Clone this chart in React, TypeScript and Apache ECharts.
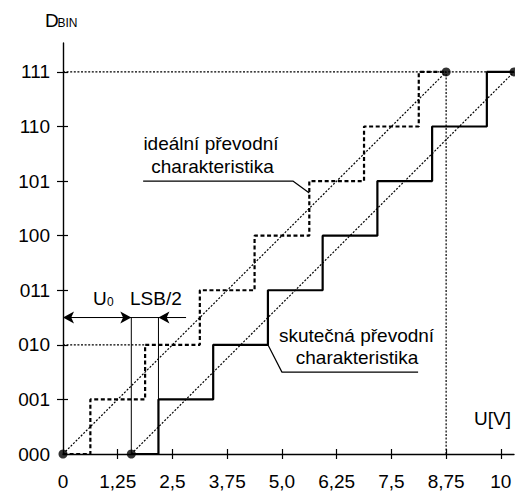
import React, { useEffect, useRef } from "react";
import * as echarts from "echarts";

// ---- data ----
const yCategories = ["000", "001", "010", "011", "100", "101", "110", "111"];
const xTickValues = [0, 1.25, 2.5, 3.75, 5, 6.25, 7.5, 8.75, 10];
const xTickLabels = ["0", "1,25", "2,5", "3,75", "5,0", "6,25", "7,5", "8,75", "10"];

// ideal converter: code transitions (V)
const idealStart = 0;
const idealSwitch = [0.625, 1.875, 3.125, 4.375, 5.625, 6.875, 8.125];
const idealEnd = 8.75;

// real converter (offset U0)
const U0 = 1.56;
const realSwitch = [2.18, 3.43, 4.68, 5.93, 7.18, 8.43, 9.68];
const realEnd = 10.3;

// annotation helpers (data coordinates)
const lsbHalfEnd = 2.18; // U0 + LSB/2
const lsbArrowFrom = 2.81;
const arrowLevel = 2.5;
const idealLeader = [[1.83, 5.0], [5.25, 5.0], [5.625, 4.78]];
const realLeader = [[8.11, 1.5], [5.0, 1.5], [4.68, 2.0]];

function staircase(start: number, switches: number[], end: number) {
  const pts: number[][] = [[start, 0]];
  switches.forEach((s, i) => {
    pts.push([s, i]);
    pts.push([s, i + 1]);
  });
  pts.push([end, switches.length]);
  return pts;
}

const FONT = "'Liberation Sans', Arial, sans-serif";

export default function App() {
  const ref = useRef<HTMLDivElement>(null);
  useEffect(() => {
    if (!ref.current) return;
    const chart = echarts.init(ref.current, undefined, { renderer: "svg" });
    const top = yCategories.length - 1;
    const dotted = { color: "#000", width: 1.2, type: [2, 1.6] as any };
    const thin = { color: "#000", width: 1, type: "solid" as any };
    const lineSeries = (data: number[][], lineStyle: any, extra: any = {}) => ({
      type: "line",
      data,
      symbol: "none",
      silent: true,
      clip: false,
      lineStyle,
      z: 3,
      ...extra,
    });
    const option: any = {
      animation: false,
      backgroundColor: "#fff",
      grid: { left: 63, right: 1, top: 43, bottom: 40, containLabel: false, outerBoundsMode: "none" },
      xAxis: [
        {
          type: "value",
          min: 0,
          max: 10.3,
          position: "bottom",
          splitLine: { show: false },
          axisLine: { onZero: false, lineStyle: { color: "#000", width: 1.4 } },
          axisTick: { customValues: xTickValues.slice(1), length: 5, lineStyle: { color: "#000", width: 1.2 } },
          axisLabel: {
            customValues: xTickValues,
            formatter: (v: number) => {
              const i = xTickValues.findIndex((t) => Math.abs(t - v) < 1e-6);
              return i >= 0 ? xTickLabels[i] : "";
            },
            color: "#000",
            fontSize: 19,
            fontFamily: FONT,
            margin: 18,
          },
        },
        {
          type: "value",
          min: 0,
          max: 10.3,
          position: "bottom",
          splitLine: { show: false },
          axisLine: { show: false, onZero: false },
          axisTick: { customValues: xTickValues.slice(1), length: 5, inside: true, lineStyle: { color: "#000", width: 1.2 } },
          axisLabel: { show: false },
        },
      ],
      yAxis: [
        {
          type: "value",
          min: 0,
          max: 7.53,
          position: "left",
          splitLine: { show: false },
          axisLine: { show: true, onZero: false, lineStyle: { color: "#000", width: 1.4 } },
          axisTick: { show: true, customValues: [1, 2, 3, 4, 5, 6, 7], length: 6, lineStyle: { color: "#000", width: 1.2 } },
          axisLabel: {
            customValues: [0, 1, 2, 3, 4, 5, 6, 7],
            formatter: (v: number) => yCategories[Math.round(v)] ?? "",
            color: "#000",
            fontSize: 19,
            fontFamily: FONT,
            margin: 13,
          },
        },
        {
          type: "value",
          min: 0,
          max: 7.53,
          position: "left",
          splitLine: { show: false },
          axisLine: { show: false, onZero: false },
          axisTick: { show: true, inside: true, customValues: [1, 2, 3, 4, 5, 6, 7], length: 5, lineStyle: { color: "#000", width: 1.2 } },
          axisLabel: { show: false },
        },
      ],
      series: [
        // dotted guide lines
        lineSeries([[0, top], [realEnd, top]], dotted),
        lineSeries([[0, 2], [idealSwitch[1], 2]], dotted),
        lineSeries([[idealEnd, 0], [idealEnd, top]], dotted),
        lineSeries([[idealStart, 0], [idealEnd, top]], dotted),
        lineSeries([[U0, 0], [realEnd, top]], dotted),
        // thin construction lines
        lineSeries([[U0, 0], [U0, arrowLevel]], thin),
        lineSeries([[lsbHalfEnd, 0], [lsbHalfEnd, arrowLevel]], thin),
        lineSeries([[0, arrowLevel], [lsbArrowFrom, arrowLevel]], thin, {
          markLine: {
            silent: true,
            symbolSize: [9, 11],
            label: { show: false },
            lineStyle: { color: "#000", width: 1, type: "solid" },
            emphasis: { disabled: true },
            data: [
              [
                { coord: [0, arrowLevel], symbol: "arrow" },
                { coord: [U0, arrowLevel], symbol: "arrow" },
              ],
              [
                { coord: [lsbArrowFrom, arrowLevel], symbol: "none" },
                { coord: [lsbHalfEnd, arrowLevel], symbol: "arrow" },
              ],
            ],
          },
        }),
        // leader lines
        lineSeries(idealLeader, { color: "#000", width: 1.2 }),
        lineSeries(realLeader, { color: "#000", width: 1.2 }),
        // ideal staircase (dashed)
        lineSeries(staircase(idealStart, idealSwitch, idealEnd), { color: "#000", width: 2.2, type: [4, 2.6] }, { z: 4 }),
        // real staircase (solid)
        lineSeries(staircase(U0, realSwitch, realEnd), { color: "#000", width: 2.2, type: "solid" }, { z: 4 }),
        // end points
        {
          type: "scatter",
          data: [[idealStart, 0], [U0, 0], [idealEnd, top], [realEnd, top]],
          symbol: "circle",
          symbolSize: 9,
          itemStyle: { color: "#000" },
          silent: true,
          clip: false,
          z: 5,
        },
      ],
      graphic: [
        { type: "text", x: 45, y: 20, style: { text: "D", font: `19px ${FONT}`, fill: "#000", textVerticalAlign: "middle" } },
        { type: "text", x: 57.5, y: 23, style: { text: "BIN", font: `12px ${FONT}`, fill: "#000", textVerticalAlign: "middle" } },
        { type: "text", x: 474, y: 418, style: { text: "U[V]", font: `19px ${FONT}`, fill: "#000", textVerticalAlign: "middle" } },
        { type: "text", x: 93, y: 298, style: { text: "U", font: `19px ${FONT}`, fill: "#000", textVerticalAlign: "middle" } },
        { type: "text", x: 107, y: 301.5, style: { text: "0", font: `12px ${FONT}`, fill: "#000", textVerticalAlign: "middle" } },
        { type: "text", x: 130, y: 298, style: { text: "LSB/2", font: `19px ${FONT}`, fill: "#000", textVerticalAlign: "middle" } },
        { type: "text", x: 211, y: 143, style: { text: "ideální převodní", font: `19px ${FONT}`, fill: "#000", textAlign: "center", textVerticalAlign: "middle" } },
        { type: "text", x: 212.5, y: 166.5, style: { text: "charakteristika", font: `19px ${FONT}`, fill: "#000", textAlign: "center", textVerticalAlign: "middle" } },
        { type: "text", x: 356.5, y: 335, style: { text: "skutečná převodní", font: `19px ${FONT}`, fill: "#000", textAlign: "center", textVerticalAlign: "middle" } },
        { type: "text", x: 357, y: 357, style: { text: "charakteristika", font: `19px ${FONT}`, fill: "#000", textAlign: "center", textVerticalAlign: "middle" } },
      ],
    };
    chart.setOption(option);
    return () => chart.dispose();
  }, []);
  return (
    <div
      ref={ref}
      style={{ position: "absolute", left: 0, top: 0, width: 515, height: 494, background: "#fff" }}
    />
  );
}
